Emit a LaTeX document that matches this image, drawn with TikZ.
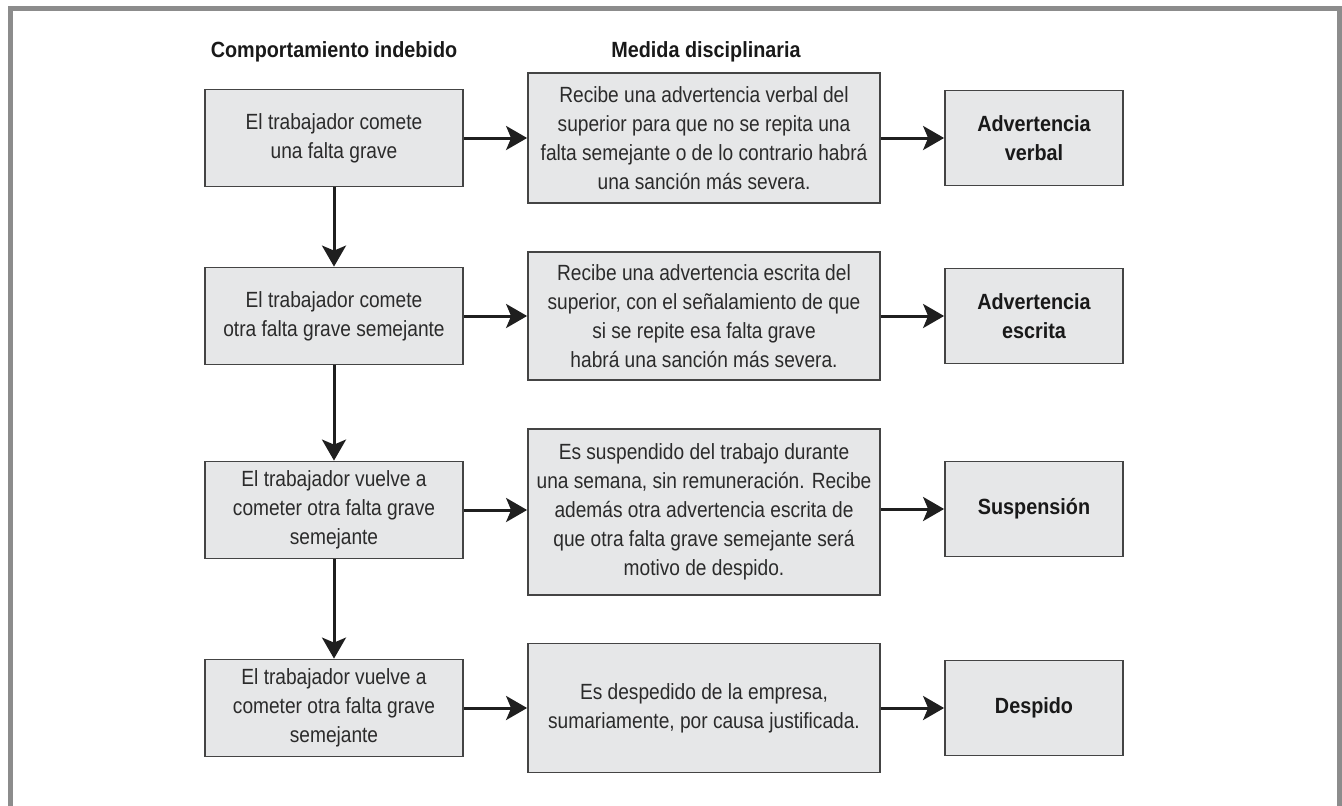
\documentclass[tikz,border=0pt]{standalone}
\usepackage{fontspec}
\setmainfont{Liberation Sans}[FakeStretch=0.87]
\newfontfamily\boldc{Liberation Sans}[FakeStretch=0.9]
\usetikzlibrary{arrows.meta}
\definecolor{boxfill}{HTML}{E6E7E8}
\definecolor{boxline}{HTML}{444444}
\definecolor{frame}{HTML}{8C8C8C}
\definecolor{txt}{HTML}{2B2B2B}
\tikzset{
  box/.style={draw=boxline, line width=1.8pt, fill=boxfill, align=center, inner sep=0pt,
    text=txt, font=\fontsize{22}{29}\selectfont},
  lbox/.style={box, minimum width=258pt, minimum height=97pt},
  mbox/.style={box, minimum width=352pt},
  rbox/.style={box, minimum width=178pt, minimum height=95pt, font=\boldc\bfseries\fontsize{22}{29}\selectfont, text=black!90},
  hdr/.style={font=\boldc\bfseries\fontsize{22}{29}\selectfont, text=black!90, inner sep=0pt},
  arr/.style={draw=black!88, line width=3pt, -{Stealth[length=21pt, width=24pt, inset=5pt]}},
}
\begin{document}
\begin{tikzpicture}[x=1pt, y=-1pt]
\useasboundingbox (0,0) rectangle (1342,806);
\draw[frame, line width=5pt] (10.5,806) -- (10.5,8.5) -- (1339.5,8.5) -- (1339.5,806);

\node[hdr] (h1) at (334,52) {Comportamiento indebido};
\node[hdr] (h2) at (706,52) {Medida disciplinaria};

% row 1
\node[lbox] (l1) at (334,138) {El trabajador comete\\una falta grave};
\node[mbox, minimum height=130pt] (m1) at (704,138) {Recibe una advertencia verbal del\\superior para que no se repita una\\falta semejante o de lo contrario habrá\\una sanción más severa.};
\node[rbox] (r1) at (1034,138) {Advertencia\\verbal};

% row 2
\node[lbox] (l2) at (334,316) {El trabajador comete\\otra falta grave semejante};
\node[mbox, minimum height=128pt] (m2) at (704,316) {Recibe una advertencia escrita del\\superior, con el señalamiento de que\\si se repite esa falta grave\\habrá una sanción más severa.};
\node[rbox] (r2) at (1034,316) {Advertencia\\escrita};

% row 3
\node[lbox] (l3) at (334,510) {El trabajador vuelve a\\cometer otra falta grave\\semejante};
\node[mbox, minimum height=166pt] (m3) at (704,512) {Es suspendido del trabajo durante\\una semana, sin remuneración. Recibe\\además otra advertencia escrita de\\que otra falta grave semejante será\\motivo de despido.};
\node[rbox] (r3) at (1034,509) {Suspensión};

% row 4
\node[lbox] (l4) at (334,708) {El trabajador vuelve a\\cometer otra falta grave\\semejante};
\node[mbox, minimum height=129pt] (m4) at (704,708) {Es despedido de la empresa,\\sumariamente, por causa justificada.};
\node[rbox] (r4) at (1034,708) {Despido};

% arrows
\foreach \i in {1,2,4} {
  \draw[arr] (l\i.east) -- (m\i.west);
  \draw[arr] (m\i.east) -- (r\i.west);
}
\draw[arr] (l3.east) -- (l3.east -| m3.west);
\draw[arr] (r3.west -| m3.east) -- (r3.west);
\draw[arr] (l1.south) -- (l2.north);
\draw[arr] (l2.south) -- (l3.north);
\draw[arr] (l3.south) -- (l4.north);
\end{tikzpicture}
\end{document}
